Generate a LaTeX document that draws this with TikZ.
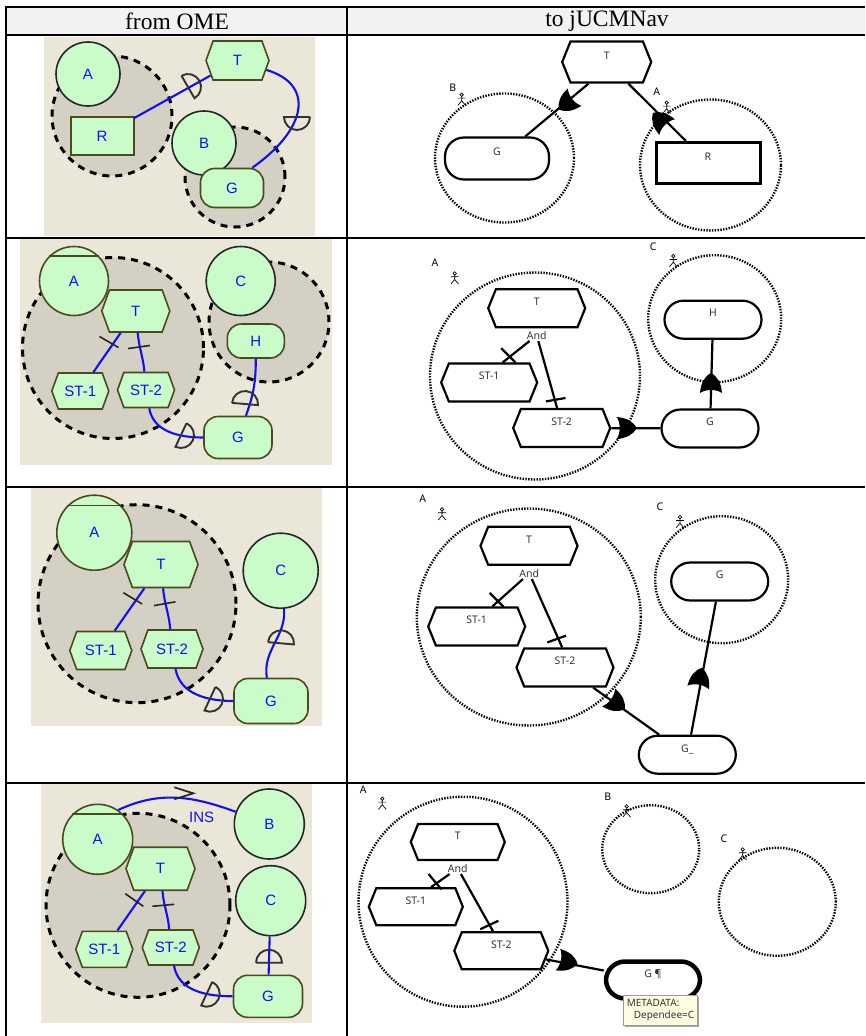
\documentclass[tikz,border=0pt]{standalone}
\usepackage{fontspec}
\usepackage[dvipsnames]{xcolor}
\setmainfont{Liberation Serif}
\setsansfont{Noto Sans}
\newfontfamily\omefont{Liberation Sans}
\usetikzlibrary{shapes.geometric,shapes.symbols,shadows}

\definecolor{omebg}{HTML}{EAE7D8}
\definecolor{omegray}{HTML}{D4D0C3}
\definecolor{omegreen}{HTML}{C9FCC9}
\definecolor{omeedge}{HTML}{4A4A1E}
\definecolor{omeblue}{HTML}{1010F0}
\definecolor{headgray}{HTML}{F2F2F2}
\definecolor{tipyellow}{HTML}{FDFCE0}

\tikzset{
    wh/.style 2 args={minimum width=#1pt,minimum height=#2pt},
    rule line/.style={line width=2pt,black},
    head text/.style={font=\rmfamily\fontsize{23.5}{28}\selectfont,inner sep=0pt},
    ome panel/.style={fill=omebg,draw=none},
    ome bound/.style={circle,fill=omegray,draw=black,line width=3pt,dash pattern=on 7pt off 6pt,inner sep=0pt},
    ome node/.style={fill=omegreen,draw=omeedge,line width=1.6pt,text=omeblue,inner sep=0pt,font=\omefont\fontsize{15}{18}\selectfont},
    ome actor/.style={ome node,circle},
    ome task/.style={ome node,signal,signal to=east and west,signal pointer angle=140},
    ome goal/.style={ome node,rectangle,rounded corners=14pt},
    ome res/.style={ome node,rectangle,line width=2pt},
    ome link/.style={omeblue,line width=2.1pt},
    ju bound/.style={ellipse,draw=black,line width=2.4pt,dash pattern=on 1.4pt off 1.4pt,inner sep=0pt},
    ju node/.style={draw=black,line width=2.2pt,fill=white,inner sep=0pt,text depth=13pt,text=black!80,font=\sffamily\fontsize{10.5}{12}\selectfont},
    ju task/.style={ju node,signal,signal to=east and west,signal pointer angle=136},
    ju goal/.style={ju node,rectangle,rounded corners=19pt},
    ju res/.style={ju node,rectangle,line width=3pt},
    ju name/.style={font=\sffamily\bfseries\fontsize{10.5}{12}\selectfont,inner sep=0pt},
    ju and/.style={font=\sffamily\fontsize{10.5}{12}\selectfont,text=black!80,inner sep=1.5pt},
    ju link/.style={black,line width=2.2pt},
    dep/.pic={\draw[black!80,line width=1.9pt] (0,13) -- (0,-13) arc (-90:90:13pt);},
    jtick/.pic={\draw[black,line width=2.2pt] (-10,0) -- (10,0);},
    otick/.pic={\draw[black!85,line width=1.6pt] (-11,0) -- (11,0);},
    means/.pic={\draw[black!85,line width=1.7pt] (-10,6) -- (9,0) -- (-10,-6);},
    jhead/.pic={\fill[black] (10,0) .. controls (6,7) and (0,10) .. (-10,11) .. controls (-6,5) and (-6,-5) .. (-10,-11) .. controls (0,-10) and (6,-7) .. (10,0);},
    stick/.pic={
        \draw[black,line width=.7pt] (0,4.6) circle (1.7pt);
        \draw[black,line width=.7pt] (0,2.9) -- (0,-1.5) (-3.8,1.2) -- (3.8,1.2) (-3.8,-6) -- (0,-1.5) -- (3.8,-6);
    }
}

\begin{document}
\begin{tikzpicture}[x=1pt,y=1pt]

    \useasboundingbox (0,0) rectangle (865,-1036);

    % header and rules
    \fill[headgray] (6,-7) rectangle (865,-35);
    \node[head text] (from) at (177,-21) {from OME};
    \node[head text] (to) at (607,-21) {to jUCMNav};

    \draw[rule line] (5,-7) -- (865,-7);
    \draw[rule line] (5,-35) -- (865,-35);
    \draw[rule line] (5,-237.5) -- (865,-237.5);
    \draw[rule line] (5,-486.5) -- (865,-486.5);
    \draw[rule line] (5,-783) -- (865,-783);
    \draw[rule line] (6,-6) -- (6,-1036);
    \draw[rule line] (346.5,-6) -- (346.5,-1036);

    % row 1, OME
    \fill[ome panel] (44,-37) rectangle (315,-236);
    \node[ome bound,minimum size=120pt] (BA1) at (112,-116) {};
    \node[ome bound,minimum size=100pt] (BB1) at (235,-177) {};
    \node[ome actor,minimum size=64pt,draw=black!85] (A1) at (88,-74) {A};
    \node[ome actor,minimum size=64pt,draw=black!85] (B1) at (204,-143) {B};
    \node[ome res,wh={63}{38}] (R1) at (102,-136) {R};
    \node[ome task,wh={63}{39}] (T1) at (237.5,-60.5) {T};
    \node[ome goal,wh={63}{39}] (G1) at (232,-188) {G};

    \draw[ome link] (R1) -- (T1);
    \draw[ome link] (T1.-18) .. controls (316,-85) and (306,-130) .. (G1.45);
    \pic[rotate=30] at (188,-87) {dep};
    \pic[rotate=-90] at (297,-117) {dep};

    % row 1, jUCMNav
    \node[ju bound,wh={139}{129}] (jBB1) at (504.5,-158) {};
    \node[ju bound,wh={141}{131}] (jBA1) at (710.5,-165) {};
    \node[ju task,wh={89}{41}] (jT1) at (606.7,-62) {T};
    \node[ju goal,wh={104}{42}] (jG1) at (497,-158.5) {G};
    \node[ju res,wh={104}{41}] (jR1) at (708,-163) {R};
    \node[ju name] (jnB1) at (452.7,-87.3) {B};
    \node[ju name] (jnA1) at (656.7,-91.7) {A};
    \pic at (461.7,-99.3) {stick};
    \pic at (666.7,-107.3) {stick};

    \draw[ju link] (jT1.-130) -- (jG1.38);
    \draw[ju link] (jR1) -- (jT1);
    \pic[rotate=218] at (566.7,-103.3) {jhead};
    \pic[rotate=135] at (660,-120) {jhead};

    % row 2, OME
    \fill[ome panel] (20,-239) rectangle (332,-465);
    \node[ome bound,minimum size=181pt] (BA2) at (113,-348) {};
    \node[ome bound,minimum size=120pt] (BC2) at (269,-322) {};
    \node[ome actor,minimum size=69pt] (A2) at (74,-281) {A};
    \draw[omeedge,line width=1.6pt] (A2.135) -- (A2.45);
    \node[ome actor,minimum size=69pt,draw=black!85] (C2) at (240.7,-281) {C};
    \node[ome task,wh={68}{42}] (T2) at (135.8,-311) {T};
    \node[ome task,wh={57}{36}] (S21) at (80.3,-391) {ST-1};
    \node[ome task,wh={57}{35}] (S22) at (146,-390) {ST-2};
    \node[ome goal,wh={57}{34}] (H2) at (255.8,-341) {H};
    \node[ome goal,wh={68}{42}] (G2) at (238,-437.5) {G};

    \draw[ome link] (T2) -- (S21);
    \draw[ome link] (T2) to[out=-85,in=95] (S22);
    \draw[ome link] (S22) to[out=-80,in=180] (G2);
    \draw[ome link] (H2) to[out=-90,in=70] (G2);
    \pic[rotate=-30] at (109,-342) {otick};
    \pic[rotate=8] at (139,-347) {otick};
    \pic[rotate=85] at (245,-404) {dep};
    \pic[rotate=-25] at (181,-435) {dep};

    % row 2, jUCMNav
    \node[ju bound,wh={210}{207}] (jBA2) at (535,-376) {};
    \node[ju bound,wh={133}{127}] (jBC2) at (714.7,-318.7) {};
    \node[ju task,wh={97}{38}] (jT2) at (536.7,-308.2) {T};
    \node[ju and] (jAnd2) at (536.7,-335.3) {And};
    \node[ju task,wh={96}{38}] (jS21) at (489.2,-382.5) {ST-1};
    \node[ju task,wh={97}{38}] (jS22) at (561.7,-428) {ST-2};
    \node[ju goal,wh={97}{38}] (jH2) at (713,-319.7) {H};
    \node[ju goal,wh={97}{38}] (jG2) at (710,-428.5) {G};
    \node[ju name] (jnA2) at (435,-263) {A};
    \node[ju name] (jnC2) at (653.3,-246.3) {C};
    \pic at (454.7,-278) {stick};
    \pic at (673.3,-260.7) {stick};

    \draw[ju link] (jAnd2) -- (jS21.56);
    \draw[ju link] (jAnd2) -- (jS22.103);
    \draw[ju link] (jS22) -- (jG2);
    \draw[ju link] (jG2) -- (jH2);
    \pic[rotate=-45] at (508.3,-355.3) {jtick};
    \pic[rotate=10] at (555.7,-399.7) {jtick};
    \pic at (626.7,-428) {jhead};
    \pic[rotate=90] at (711,-383) {jhead};

    % row 3, OME
    \fill[ome panel] (31,-488) rectangle (322,-726);
    \node[ome bound,minimum size=198pt] (BA3) at (137,-603.7) {};
    \node[ome actor,minimum size=75pt] (A3) at (94.3,-532.7) {A};
    \draw[omeedge,line width=1.6pt] (A3.135) -- (A3.45);
    \node[ome actor,minimum size=75pt,draw=black!85] (C3) at (280.7,-570.7) {C};
    \node[ome task,wh={74}{46}] (T3) at (161,-564.5) {T};
    \node[ome task,wh={62}{38}] (S31) at (100.8,-650.5) {ST-1};
    \node[ome task,wh={62}{38}] (S32) at (172,-649) {ST-2};
    \node[ome goal,wh={74}{45}] (G3) at (271,-701) {G};

    \draw[ome link] (T3) -- (S31);
    \draw[ome link] (T3) to[out=-85,in=95] (S32);
    \draw[ome link] (S32) to[out=-80,in=180] (G3);
    \draw[ome link] (C3) to[out=-85,in=100] (G3);
    \pic[rotate=-31] at (132.7,-598.3) {otick};
    \pic[rotate=10] at (164.7,-603.7) {otick};
    \pic[rotate=85] at (281,-643.3) {dep};
    \pic[rotate=-25] at (210,-698.7) {dep};

    % row 3, jUCMNav
    \node[ju bound,wh={224}{217}] (jBA3) at (528.8,-617) {};
    \node[ju bound,wh={133}{127}] (jBC3) at (721.7,-579.7) {};
    \node[ju task,wh={97}{38}] (jT3) at (529,-545.8) {T};
    \node[ju and] (jAnd3) at (529.3,-573.3) {And};
    \node[ju task,wh={97}{38}] (jS31) at (476.7,-626.5) {ST-1};
    \node[ju task,wh={97}{38}] (jS32) at (565,-667.5) {ST-2};
    \node[ju goal,wh={97}{38}] (jG3) at (719.7,-581.5) {G};
    \node[ju goal,wh={97}{38}] (jGu3) at (687.3,-754.7) {G\_};
    \node[ju name] (jnA3) at (422.7,-498.3) {A};
    \node[ju name] (jnC3) at (660,-506.7) {C};
    \pic at (442,-514) {stick};
    \pic at (680,-521.7) {stick};

    \draw[ju link] (jAnd3) -- (jS31.52);
    \draw[ju link] (jAnd3) -- (jS32.98);
    \draw[ju link] (jS32) -- (jGu3);
    \draw[ju link] (jGu3) -- (jG3);
    \pic[rotate=-45] at (496.7,-600) {jtick};
    \pic[rotate=20] at (556.7,-639) {jtick};
    \pic[rotate=-36] at (616.7,-703.3) {jhead};
    \pic[rotate=80] at (700,-677.7) {jhead};

    % row 4, OME
    \fill[ome panel] (41,-784) rectangle (312,-1023);
    \node[ome bound,minimum size=184pt] (BA4) at (138,-905.3) {};
    \node[ome actor,minimum size=70pt] (A4) at (97.7,-839.3) {A};
    \draw[omeedge,line width=1.6pt] (A4.135) -- (A4.45);
    \node[ome actor,minimum size=70pt,draw=black!85] (B4) at (269.3,-824) {B};
    \node[ome actor,minimum size=70pt,draw=black!85] (C4) at (270.7,-900.7) {C};
    \node[ome task,wh={69}{43}] (T4) at (160.5,-868.7) {T};
    \node[ome task,wh={57}{36}] (S41) at (104.3,-949.3) {ST-1};
    \node[ome task,wh={57}{35}] (S42) at (170.8,-947.5) {ST-2};
    \node[ome goal,wh={69}{42}] (G4) at (268,-996.3) {G};
    \node[text=omeblue,inner sep=0pt,font=\omefont\fontsize{15}{18}\selectfont] (ins) at (201.7,-817.3) {INS};

    \draw[ome link] (A4.55) to[out=25,in=160] (B4);
    \draw[ome link] (T4) -- (S41);
    \draw[ome link] (T4) to[out=-85,in=95] (S42);
    \draw[ome link] (S42) to[out=-80,in=180] (G4);
    \draw[ome link] (C4) -- (G4);
    \pic[rotate=-35] at (134.3,-900) {otick};
    \pic[rotate=5] at (163.3,-905.3) {otick};
    \pic at (184.3,-793.3) {means};
    \pic[rotate=90] at (269,-962.7) {dep};
    \pic[rotate=-25] at (206.7,-993.7) {dep};

    % row 4, jUCMNav
    \node[ju bound,wh={209}{210}] (jBA4) at (463,-901.7) {};
    \node[ju bound,wh={97}{88}] (jBB4) at (650.7,-849.2) {};
    \node[ju bound,wh={117}{108}] (jBC4) at (777.3,-901.8) {};
    \node[ju task,wh={94}{36}] (jT4) at (457.8,-842) {T};
    \node[ju and] (jAnd4) at (457.7,-868.3) {And};
    \node[ju task,wh={94}{37}] (jS41) at (415.8,-906.7) {ST-1};
    \node[ju task,wh={94}{37}] (jS42) at (501.3,-950.8) {ST-2};
    \node[ju goal,wh={94}{37},line width=4.5pt] (jG4) at (653,-980) {G ¶};
    \node[ju name] (jnA4) at (363.3,-789.3) {A};
    \node[ju name] (jnB4) at (607.7,-796.7) {B};
    \node[ju name] (jnC4) at (724,-839) {C};
    \pic at (382.3,-803.3) {stick};
    \pic at (626.7,-811) {stick};
    \pic at (742.7,-854) {stick};

    \draw[ju link] (jAnd4) -- (jS41.52);
    \draw[ju link] (jAnd4) -- (jS42.113);
    \draw[ju link] (jS42) -- (jG4);
    \pic[rotate=-50] at (435,-881.7) {jtick};
    \pic[rotate=25] at (489.3,-925) {jtick};
    \pic[rotate=-12] at (567.7,-961.7) {jhead};

    \node[rectangle,wh={74}{30},draw=black!40,fill=tipyellow,inner sep=0pt,align=left,
        font=\sffamily\fontsize{10}{12.5}\selectfont,text=black!80,
        drop shadow={shadow xshift=1.5pt,shadow yshift=-1.5pt,fill=black!35,opacity=1}] (tip) at (660.5,-1010)
        {METADATA:\\\hspace*{7pt}Dependee=C};

\end{tikzpicture}
\end{document}
